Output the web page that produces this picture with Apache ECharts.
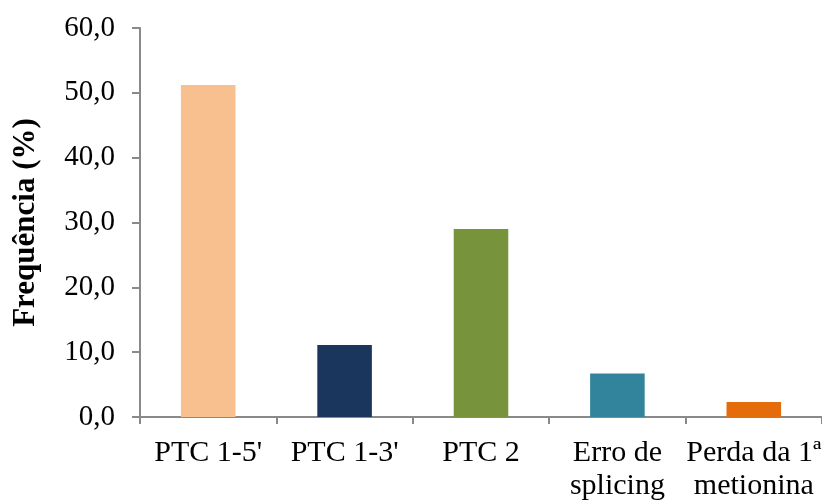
<!DOCTYPE html>
<html>
<head>
<meta charset="utf-8">
<script src="https://cdn.jsdelivr.net/npm/echarts@6/dist/echarts.min.js"></script>
<style>
  html, body { margin: 0; padding: 0; background: #fff; }
  #chart { width: 822px; height: 500px; }
</style>
</head>
<body>
<div id="chart"></div>
<script>
// Categories of mutation type and their frequency (%)
const categories = ["PTC 1-5'", "PTC 1-3'", "PTC 2", "Erro de\nsplicing", "Perda da 1ª\nmetionina"];
const frequencies = [51.2, 11.1, 29.0, 6.7, 2.3];
const barColors = ['#F9C08F', '#1B365D', '#77933C', '#31849B', '#E46C0A'];
const yTicks = { min: 0, max: 60, interval: 10 };

const font = '"Liberation Serif", "Times New Roman", serif';
const axisGray = '#898989';

const chart = echarts.init(document.getElementById('chart'), null, { renderer: 'canvas' });

chart.setOption({
  animation: false,
  backgroundColor: '#ffffff',
  grid: {
    left: 140, right: 0, top: 28, bottom: 83,
    containLabel: false,
    outerBoundsMode: 'none'
  },
  xAxis: {
    type: 'category',
    data: categories,
    axisLine: { lineStyle: { color: axisGray, width: 2 } },
    axisTick: { show: true, length: 7, lineStyle: { color: axisGray, width: 2 } },
    axisLabel: {
      color: '#000',
      fontFamily: font,
      fontSize: 30,
      lineHeight: 33,
      margin: 20,
      interval: 0,
      hideOverlap: false
    }
  },
  yAxis: {
    type: 'value',
    min: yTicks.min,
    max: yTicks.max,
    interval: yTicks.interval,
    name: 'Frequência (%)',
    nameLocation: 'middle',
    nameGap: 99,
    nameTextStyle: {
      color: '#000',
      fontFamily: font,
      fontSize: 31,
      fontWeight: 'bold'
    },
    axisLine: { show: true, lineStyle: { color: axisGray, width: 2 } },
    axisTick: { show: true, length: 8, lineStyle: { color: axisGray, width: 2 } },
    splitLine: { show: false },
    axisLabel: {
      color: '#000',
      fontFamily: font,
      fontSize: 29,
      margin: 25,
      formatter: v => v.toFixed(1).replace('.', ',')
    }
  },
  series: [{
    type: 'bar',
    barWidth: '40%',
    data: frequencies.map((v, i) => ({ value: v, itemStyle: { color: barColors[i] } }))
  }]
});
</script>
</body>
</html>
